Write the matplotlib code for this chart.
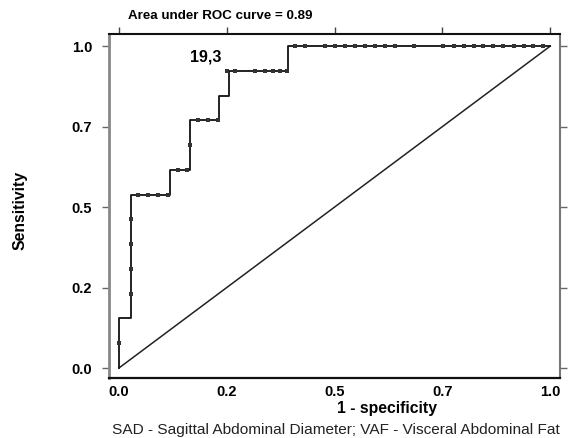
import matplotlib
matplotlib.use("Agg")
import matplotlib.pyplot as plt

plt.rcParams['font.family'] = ['Liberation Sans', 'DejaVu Sans']

# ROC step curve vertices (steps-post)
roc_fpr = [0.0, 0.0, 0.029, 0.118, 0.165, 0.233, 0.256, 0.393, 1.0]
roc_sens = [0.0, 0.154, 0.538, 0.615, 0.769, 0.846, 0.923, 1.0, 1.0]

# threshold markers
mk_fpr = [0.0, 0.029, 0.029, 0.029, 0.029,
          0.045, 0.068, 0.091, 0.114,
          0.137, 0.158, 0.165,
          0.183, 0.207, 0.230,
          0.250,
          0.269, 0.316, 0.339, 0.357, 0.373, 0.389,
          0.408, 0.432, 0.478, 0.501, 0.524, 0.548, 0.571, 0.594, 0.617, 0.640,
          0.683, 0.752, 0.776, 0.799, 0.822, 0.845, 0.868, 0.891, 0.915, 0.938,
          0.961, 0.984]
mk_sens = [0.077, 0.231, 0.308, 0.385, 0.462,
           0.538, 0.538, 0.538, 0.538,
           0.615, 0.615, 0.692,
           0.769, 0.769, 0.769,
           0.923,
           0.923, 0.923, 0.923, 0.923, 0.923, 0.923,
           1.0, 1.0, 1.0, 1.0, 1.0, 1.0, 1.0, 1.0, 1.0, 1.0,
           1.0, 1.0, 1.0, 1.0, 1.0, 1.0, 1.0, 1.0, 1.0, 1.0,
           1.0, 1.0]

ref_x = [0.0, 1.0]
ref_y = [0.0, 1.0]

tick_vals = [0.0, 0.25, 0.5, 0.75, 1.0]
tick_labels = ['0.0', '0.2', '0.5', '0.7', '1.0']

cutoff_label = '19,3'
cutoff_pos = (0.202, 0.965)

fig = plt.figure(figsize=(5.86, 4.38), dpi=100)
ax = fig.add_axes([0.186, 0.137, 0.770, 0.785])

ax.plot(ref_x, ref_y, color='#222222', lw=1.1)
ax.plot(roc_fpr, roc_sens, drawstyle='steps-post', color='#111111', lw=1.3)
ax.plot(mk_fpr, mk_sens, linestyle='none', marker='s', ms=2.8, color='#333333',
        markeredgewidth=0)
ax.text(cutoff_pos[0], cutoff_pos[1], cutoff_label, fontsize=11.5, fontweight='bold',
        ha='center', va='center')

ax.set_xlim(-0.023, 1.023)
ax.set_ylim(-0.031, 1.037)

ax.set_xticks(tick_vals)
ax.set_xticklabels(tick_labels, fontweight='bold', fontsize=10.5)
ax.set_yticks(tick_vals)
ax.set_yticklabels(tick_labels, fontweight='bold', fontsize=10.5)
ax.tick_params(axis='x', which='both', bottom=False, top=True, labelbottom=True,
               direction='out', length=5, width=1, color='#444444', pad=0)
ax.tick_params(axis='y', which='both', left=True, right=True, direction='out',
               length=5, width=1, color='#666666', pad=7)

ax.spines['left'].set_color('#888888')
ax.spines['left'].set_linewidth(2)
ax.spines['right'].set_color('#777777')
ax.spines['right'].set_linewidth(1.5)
ax.spines['top'].set_color('#111111')
ax.spines['top'].set_linewidth(1.5)
ax.spines['bottom'].set_color('#111111')
ax.spines['bottom'].set_linewidth(1.6)

fig.text(220 / 586, 1 - 16 / 438, 'Area under ROC curve = 0.89', fontsize=9.6,
         fontweight='bold', ha='center', va='center')
fig.text(20 / 586, 1 - 210 / 438, 'Sensitivity', fontsize=11.3, fontweight='bold',
         rotation=90, ha='center', va='center')
fig.text(387 / 586, 1 - 408 / 438, '1 - specificity', fontsize=11.3,
         fontweight='bold', ha='center', va='center')
fig.text(112 / 586, 1 - 430 / 438,
         'SAD - Sagittal Abdominal Diameter; VAF - Visceral Abdominal Fat',
         fontsize=11.1, ha='left', va='center', color='#222222')

fig.savefig('out.png', dpi=100)
